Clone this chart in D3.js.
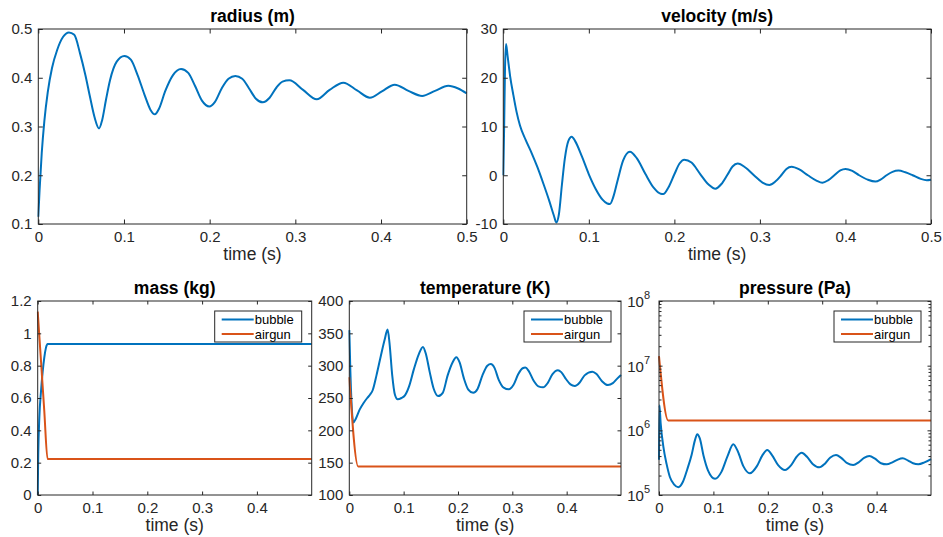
<!DOCTYPE html>
<html><head><meta charset="utf-8">
<script src="https://cdn.jsdelivr.net/npm/d3@7"></script>
<style>
body{margin:0;background:#fff;}
svg{display:block;font-family:"Liberation Sans",Arial,Helvetica,sans-serif;}
</style></head><body>
<svg id="chart" width="943" height="537"></svg>
<script>
// ---------------- data (time s, value) ----------------
const radiusData = [[0,0.115],[0.0015,0.17],[0.004,0.245],[0.007,0.31],[0.011,0.37],[0.016,0.42],[0.022,0.457],[0.029,0.484],[0.0358,0.493],[0.042,0.488],[0.0487,0.45],[0.055,0.405],[0.0603,0.361],[0.0655,0.32],[0.0709,0.296],[0.0745,0.313],[0.079,0.355],[0.0837,0.395],[0.0915,0.433],[0.1004,0.4446],[0.108,0.437],[0.116,0.405],[0.124,0.365],[0.131,0.334],[0.136,0.325],[0.141,0.337],[0.148,0.372],[0.157,0.405],[0.1666,0.418],[0.175,0.41],[0.183,0.383],[0.191,0.353],[0.1996,0.341],[0.206,0.35],[0.214,0.378],[0.222,0.398],[0.23,0.4036],[0.238,0.398],[0.246,0.378],[0.254,0.357],[0.262,0.3496],[0.27,0.359],[0.278,0.38],[0.285,0.392],[0.293,0.3947],[0.309,0.375],[0.325,0.3557],[0.34,0.375],[0.356,0.39],[0.372,0.374],[0.387,0.359],[0.401,0.372],[0.416,0.3858],[0.432,0.373],[0.448,0.3626],[0.463,0.373],[0.4785,0.3837],[0.49,0.378],[0.5,0.368]];

const velocityData = [[0,0],[0.001,10],[0.002,22],[0.0032,26.9],[0.005,24.5],[0.008,20.3],[0.0117,16.5],[0.0155,13],[0.0195,10.2],[0.026,7.3],[0.033,4.6],[0.04,1.6],[0.047,-1.8],[0.054,-5.4],[0.059,-8.2],[0.062,-9.7],[0.065,-8],[0.0685,-2],[0.072,3.5],[0.076,7],[0.08,7.9],[0.084,7],[0.092,3.8],[0.1,0.2],[0.108,-2.8],[0.116,-5],[0.1215,-5.8],[0.1247,-5.9],[0.1285,-4.5],[0.134,-0.8],[0.14,3],[0.148,4.83],[0.156,3.5],[0.166,0.3],[0.176,-2.6],[0.184,-3.8],[0.187,-3.85],[0.193,-2.5],[0.2,0.2],[0.206,2.4],[0.2116,3.2],[0.22,2.6],[0.23,0.3],[0.24,-1.9],[0.248,-2.75],[0.255,-1.8],[0.262,0.1],[0.268,1.8],[0.274,2.4],[0.283,1.6],[0.293,0],[0.303,-1.5],[0.311,-2.0],[0.318,-1.3],[0.325,0],[0.331,1.3],[0.337,1.75],[0.346,1.2],[0.356,0],[0.366,-1.1],[0.373,-1.55],[0.38,-1.0],[0.387,0],[0.394,1.0],[0.4,1.3],[0.408,0.9],[0.416,0],[0.426,-0.9],[0.435,-1.3],[0.441,-0.9],[0.448,0],[0.455,0.7],[0.462,0.95],[0.47,0.6],[0.4785,0],[0.488,-0.75],[0.495,-1.0],[0.5,-0.9]];

const massBubble = [[0,0],[0.001,0.25],[0.003,0.48],[0.006,0.64],[0.009,0.76],[0.012,0.85],[0.015,0.91],[0.018,0.934],[0.5,0.934]];
const massAirgun = [[0,1.134],[0.006,0.83],[0.012,0.52],[0.018,0.223],[0.5,0.223]];

const tempBubble = [[0,355],[0.0008,330],[0.002,290],[0.004,245],[0.0074,212],[0.012,218],[0.019,232],[0.026,242],[0.033,250],[0.038,255],[0.043,262],[0.05,285],[0.058,315],[0.065,340],[0.0705,356],[0.074,335],[0.079,285],[0.084,255],[0.089,248],[0.096,250],[0.1024,254],[0.11,268],[0.119,295],[0.128,318],[0.1355,329],[0.141,318],[0.148,290],[0.155,265],[0.1636,253],[0.172,258],[0.181,285],[0.19,305],[0.197,313],[0.203,305],[0.211,280],[0.219,263],[0.228,258],[0.236,264],[0.245,285],[0.254,300],[0.2605,302.6],[0.267,297],[0.275,278],[0.284,266],[0.2936,263.4],[0.302,270],[0.311,287],[0.319,296],[0.324,297],[0.33,292],[0.339,277],[0.348,268],[0.3566,266.5],[0.365,273],[0.374,287],[0.384,293],[0.39,290],[0.399,279],[0.407,271],[0.415,268.6],[0.424,274],[0.433,285],[0.4474,290.7],[0.455,287],[0.465,276],[0.476,270],[0.485,273],[0.493,280],[0.5,285.6]];
const tempAirgun = [[0,282],[0.0165,144],[0.5,144]];

const pressBubble = [[0,3.5e5],[0.0008,2.45e6],[0.003,1.3e6],[0.008,5.6e5],[0.014,3e5],[0.02,1.9e5],[0.028,1.45e5],[0.0355,1.32e5],[0.044,1.6e5],[0.052,2.5e5],[0.06,4.2e5],[0.066,7e5],[0.0704,8.7e5],[0.075,7.5e5],[0.082,4e5],[0.09,2.4e5],[0.103,1.78e5],[0.115,2.3e5],[0.126,4e5],[0.1366,6.1e5],[0.145,4.7e5],[0.155,2.8e5],[0.167,2.17e5],[0.18,2.8e5],[0.19,4.1e5],[0.199,4.97e5],[0.208,4.1e5],[0.219,2.9e5],[0.2316,2.44e5],[0.243,2.9e5],[0.253,3.9e5],[0.2623,4.5e5],[0.272,3.9e5],[0.283,3e5],[0.2947,2.68e5],[0.305,3.05e5],[0.315,3.8e5],[0.3254,4.16e5],[0.335,3.75e5],[0.346,3.1e5],[0.357,2.91e5],[0.367,3.2e5],[0.377,3.75e5],[0.3866,4.0e5],[0.397,3.65e5],[0.408,3.1e5],[0.4186,2.98e5],[0.429,3.2e5],[0.438,3.5e5],[0.448,3.7e5],[0.458,3.4e5],[0.467,3.1e5],[0.4767,3.0e5],[0.488,3.2e5],[0.5,3.6e5]];
const pressAirgun = [[0,1.4e7],[0.017,1.42e6],[0.5,1.42e6]];

const topTimeTicks = [0,0.1,0.2,0.3,0.4,0.5];
const bottomTimeTicks = [0,0.1,0.2,0.3,0.4];
const radiusTicks = [0.1,0.2,0.3,0.4,0.5];
const velocityTicks = [-10,0,10,20,30];
const massTicks = [0,0.2,0.4,0.6,0.8,1,1.2];
const tempTicks = [100,150,200,250,300,350,400];
const pressTicks = [1e5,1e6,1e7,1e8];
const legendLabels = ["bubble","airgun"];
const titles = ["radius (m)","velocity (m/s)","mass (kg)","temperature (K)","pressure (Pa)"];
const xLabel = "time (s)";

// ---------------- drawing ----------------
const blue = "#0072BD", orange = "#D95319", axisColor = "#262626";
const svg = d3.select("#chart");
const TICK_FS = 15, LABEL_FS = 17.5, LEGEND_FS = 13;
const fmt = d => String(+d.toFixed(3));
let clipN = 0;

function panel(o){
  const x = d3.scaleLinear().domain(o.xDomain).range([o.left, o.right]);
  const y = (o.log ? d3.scaleLog() : d3.scaleLinear()).domain(o.yDomain).range([o.bottom, o.top]);
  const g = svg.append("g");
  const w = o.right - o.left, h = o.bottom - o.top;
  g.append("rect").attr("x", o.left).attr("y", o.top).attr("width", w).attr("height", h).attr("fill", "#fff");

  const id = "clip" + (clipN++);
  g.append("clipPath").attr("id", id).append("rect")
    .attr("x", o.left - 1).attr("y", o.top - 1).attr("width", w + 2).attr("height", h + 2);
  const line = d3.line().x(d => x(d[0])).y(d => y(d[1])).curve(d3.curveMonotoneX);
  const lg = g.append("g").attr("clip-path", `url(#${id})`);
  o.series.forEach(s => {
    lg.append("path").datum(s.data).attr("d", line).attr("fill", "none")
      .attr("stroke", s.color).attr("stroke-width", 2).attr("stroke-linejoin", "round");
  });

  const tl = o.tickLen;
  const styleAxis = sel => {
    sel.select(".domain").remove();
    sel.selectAll(".tick line").attr("stroke", axisColor).attr("stroke-width", 1);
    sel.selectAll(".tick text").attr("fill", axisColor).attr("font-size", TICK_FS)
      .attr("font-family", '"Liberation Sans",Arial,Helvetica,sans-serif');
    sel.attr("font-family", null).attr("font-size", null);
  };
  g.append("g").attr("transform", `translate(0,${o.bottom})`)
    .call(d3.axisBottom(x).tickValues(o.xTicks).tickSizeInner(-tl).tickSizeOuter(0).tickPadding(7.5).tickFormat(fmt)).call(styleAxis);
  g.append("g").attr("transform", `translate(0,${o.top})`)
    .call(d3.axisTop(x).tickValues(o.xTicks).tickSizeInner(-tl).tickSizeOuter(0).tickFormat(() => "")).call(styleAxis);
  if (o.log) {
    const minor = [];
    for (let e = 5; e < 8; e++) for (let k = 2; k <= 9; k++) minor.push(k * Math.pow(10, e));
    [["axisLeft", o.left], ["axisRight", o.right]].forEach(([fn, px]) => {
      g.append("g").attr("transform", `translate(${px},0)`)
        .call(d3[fn](y).tickValues(minor).tickSizeInner(-2.5).tickSizeOuter(0).tickFormat(() => "")).call(styleAxis);
      g.append("g").attr("transform", `translate(${px},0)`)
        .call(d3[fn](y).tickValues(o.yTicks).tickSizeInner(-tl).tickSizeOuter(0).tickFormat(() => "")).call(styleAxis);
    });
    o.yTicks.forEach(v => {
      const t = g.append("text").attr("x", o.left - 9).attr("y", y(v) + 6).attr("text-anchor", "end")
        .attr("fill", axisColor).attr("font-size", TICK_FS);
      t.append("tspan").text("10");
      t.append("tspan").attr("font-size", 11).attr("dy", -8).text(String(Math.round(Math.log10(v))));
    });
  } else {
    g.append("g").attr("transform", `translate(${o.left},0)`)
      .call(d3.axisLeft(y).tickValues(o.yTicks).tickSizeInner(-tl).tickSizeOuter(0).tickPadding(6).tickFormat(fmt)).call(styleAxis);
    g.append("g").attr("transform", `translate(${o.right},0)`)
      .call(d3.axisRight(y).tickValues(o.yTicks).tickSizeInner(-tl).tickSizeOuter(0).tickFormat(() => "")).call(styleAxis);
  }
  g.append("rect").attr("x", o.left).attr("y", o.top).attr("width", w).attr("height", h)
    .attr("fill", "none").attr("stroke", axisColor).attr("stroke-width", 1);

  g.append("text").attr("x", (o.left + o.right) / 2).attr("y", o.top - 7.5).attr("text-anchor", "middle")
    .attr("font-weight", "bold").attr("font-size", LABEL_FS).attr("fill", "#000").text(o.title);
  g.append("text").attr("x", (o.left + o.right) / 2).attr("y", o.bottom + 36).attr("text-anchor", "middle")
    .attr("font-size", LABEL_FS).attr("fill", axisColor).text(xLabel);

  if (o.legend) {
    const bw = 87, bh = 31;
    const bx = o.right - 10 - bw, by = o.top + 10;
    const lgd = g.append("g");
    lgd.append("rect").attr("x", bx).attr("y", by).attr("width", bw).attr("height", bh)
      .attr("fill", "#fff").attr("stroke", axisColor).attr("stroke-width", 1);
    o.series.forEach((s, i) => {
      const cy = by + 8.5 + i * 14.5;
      lgd.append("line").attr("x1", bx + 7).attr("x2", bx + 39).attr("y1", cy).attr("y2", cy)
        .attr("stroke", s.color).attr("stroke-width", 2);
      lgd.append("text").attr("x", bx + 40).attr("y", cy + 4.7).attr("font-size", LEGEND_FS)
        .attr("fill", "#000").text(legendLabels[i]);
    });
  }
}

const TOP = {top: 29, bottom: 224, tickLen: 4.5};
const BOT = {top: 301, bottom: 495, tickLen: 3.5};

panel({...TOP, left: 38.3, right: 466.7, xDomain: [0, 0.5], yDomain: [0.1, 0.5], xTicks: topTimeTicks, yTicks: radiusTicks,
  title: titles[0], series: [{data: radiusData, color: blue}]});
panel({...TOP, left: 503.3, right: 931, xDomain: [0, 0.5], yDomain: [-10, 30], xTicks: topTimeTicks, yTicks: velocityTicks,
  title: titles[1], series: [{data: velocityData, color: blue}]});
panel({...BOT, left: 37.7, right: 311.7, xDomain: [0, 0.5], yDomain: [0, 1.2], xTicks: bottomTimeTicks, yTicks: massTicks,
  title: titles[2], legend: true, series: [{data: massBubble, color: blue}, {data: massAirgun, color: orange}]});
panel({...BOT, left: 349.3, right: 621, xDomain: [0, 0.5], yDomain: [100, 400], xTicks: bottomTimeTicks, yTicks: tempTicks,
  title: titles[3], legend: true, series: [{data: tempBubble, color: blue}, {data: tempAirgun, color: orange}]});
panel({...BOT, left: 659, right: 931, xDomain: [0, 0.5], yDomain: [1e5, 1e8], log: true, xTicks: bottomTimeTicks, yTicks: pressTicks,
  title: titles[4], legend: true, series: [{data: pressBubble, color: blue}, {data: pressAirgun, color: orange}]});
</script>
</body></html>
